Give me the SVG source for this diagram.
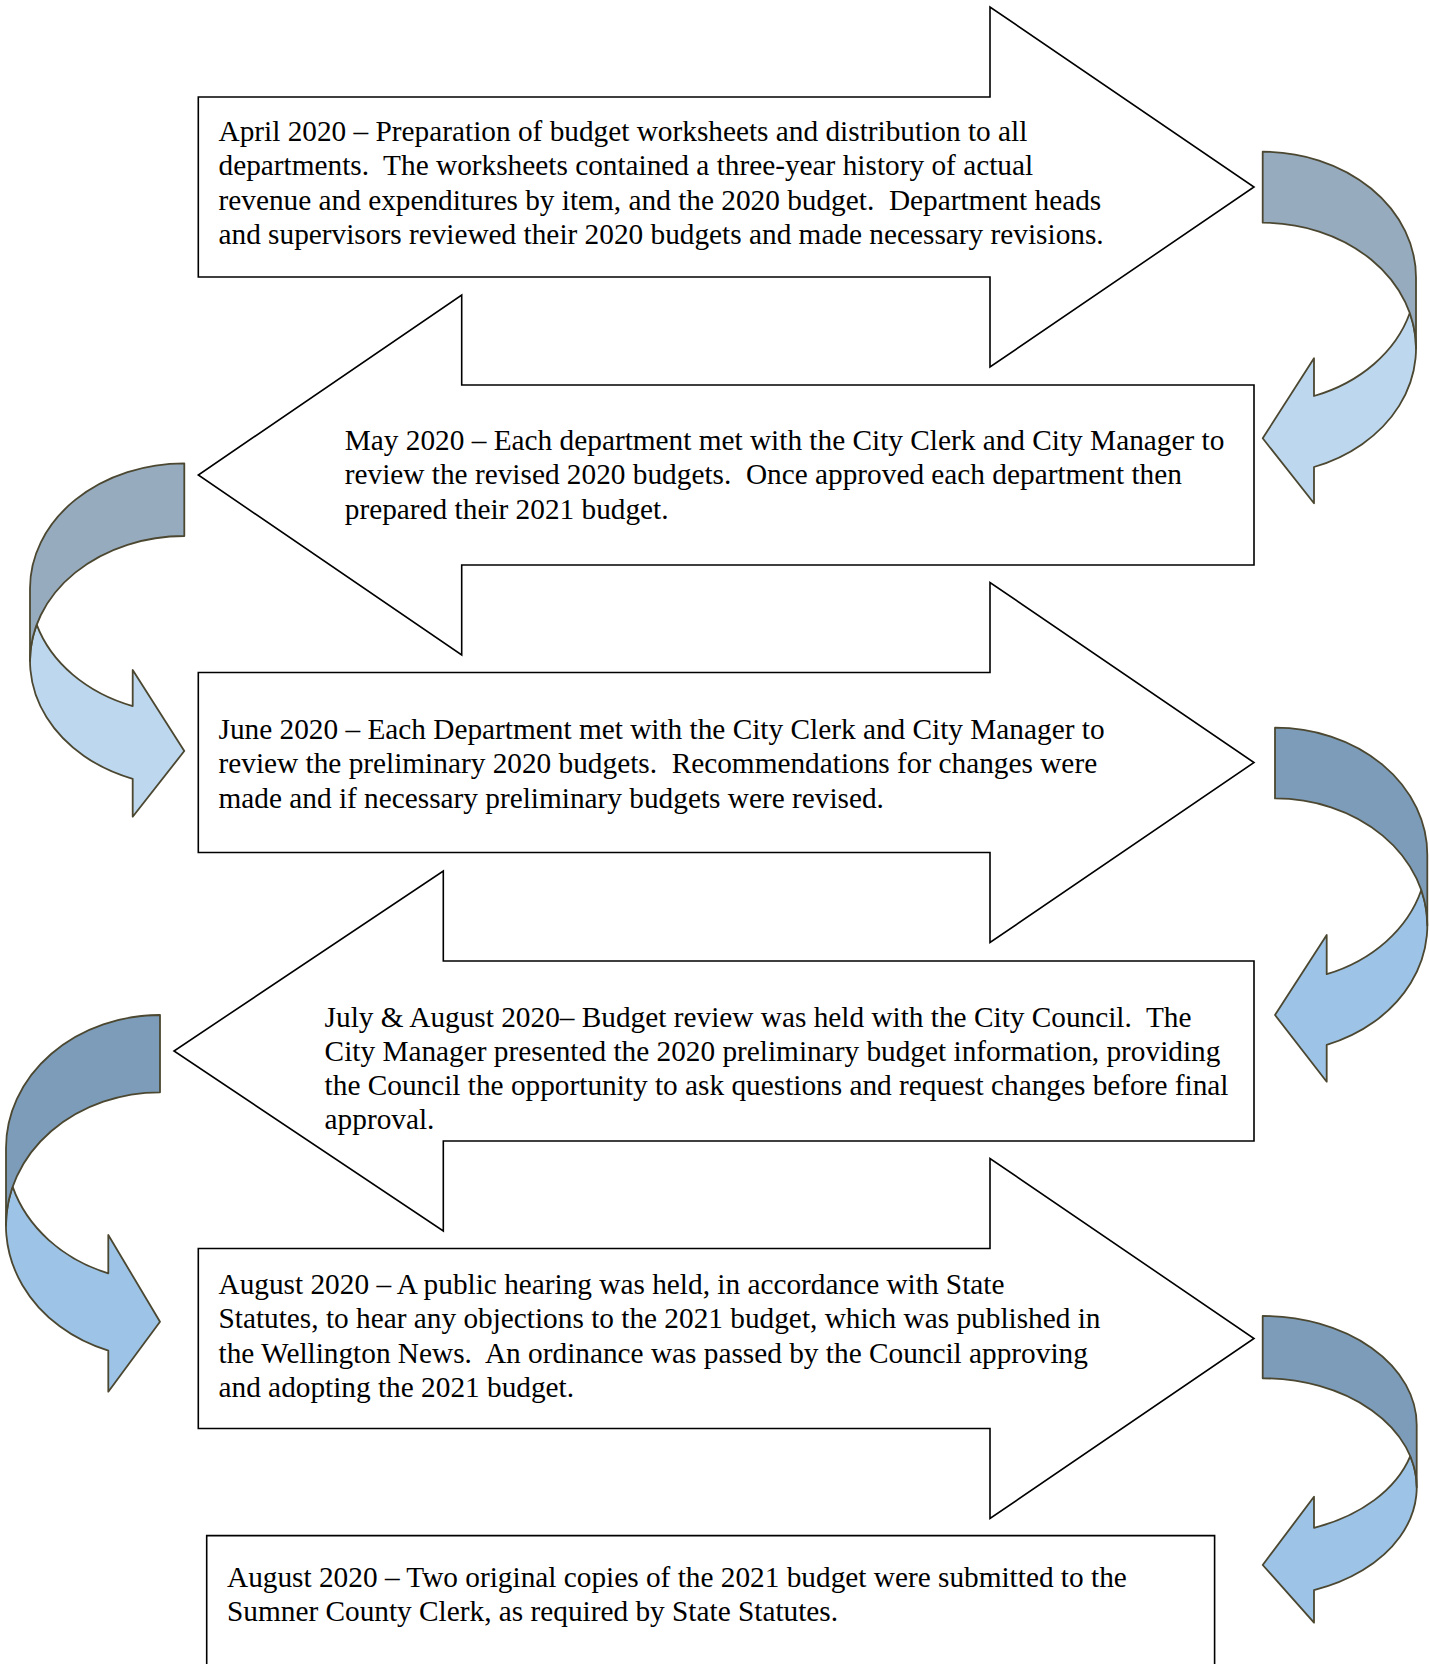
<svg xmlns="http://www.w3.org/2000/svg" width="1429" height="1664" viewBox="0 0 1429 1664">
<style>
.big{fill:#ffffff;stroke:#000000;stroke-width:1.6;stroke-linejoin:miter}
.t{font-family:"Liberation Serif","Times New Roman",serif;font-size:29.3px;fill:#000000;white-space:pre}
.ln{stroke:#4b4730;stroke-width:1.8;stroke-linejoin:round}
.d1{fill:#97abbf}.l1{fill:#bdd7ee}
.d2{fill:#7d9cb9}.l2{fill:#9dc3e6}
</style>
<rect width="1429" height="1664" fill="#ffffff"/>

<g id="step1">
<path class="big" d="M198.3,97 L990,97 L990,7 L1254,187 L990,367 L990,277 L198.3,277 Z"/>
<text class="t" x="218.5" y="141">April 2020 – Preparation of budget worksheets and distribution to all</text>
<text class="t" x="218.5" y="175.3">departments.  The worksheets contained a three-year history of actual</text>
<text class="t" x="218.5" y="209.6">revenue and expenditures by item, and the 2020 budget.  Department heads</text>
<text class="t" x="218.5" y="243.9">and supervisors reviewed their 2020 budgets and made necessary revisions.</text>
</g>

<g id="step2">
<path class="big" d="M1254,385 L461.7,385 L461.7,295 L198.3,475 L461.7,655 L461.7,565 L1254,565 Z"/>
<text class="t" x="344.8" y="450">May 2020 – Each department met with the City Clerk and City Manager to</text>
<text class="t" x="344.8" y="484.3">review the revised 2020 budgets.  Once approved each department then</text>
<text class="t" x="344.8" y="518.6">prepared their 2021 budget.</text>
</g>

<g id="step3">
<path class="big" d="M198.3,672.5 L990,672.5 L990,582.5 L1254,762.5 L990,942.5 L990,852.5 L198.3,852.5 Z"/>
<text class="t" x="218.5" y="739">June 2020 – Each Department met with the City Clerk and City Manager to</text>
<text class="t" x="218.5" y="773.3">review the preliminary 2020 budgets.  Recommendations for changes were</text>
<text class="t" x="218.5" y="807.6">made and if necessary preliminary budgets were revised.</text>
</g>

<g id="step4">
<path class="big" d="M1254,961 L443.3,961 L443.3,871 L174,1051 L443.3,1231 L443.3,1141 L1254,1141 Z"/>
<text class="t" x="324.6" y="1026.5">July &amp; August 2020– Budget review was held with the City Council.  The</text>
<text class="t" x="324.6" y="1060.8">City Manager presented the 2020 preliminary budget information, providing</text>
<text class="t" x="324.6" y="1095.1">the Council the opportunity to ask questions and request changes before final</text>
<text class="t" x="324.6" y="1129.4">approval.</text>
</g>

<g id="step5">
<path class="big" d="M198.3,1248.5 L990,1248.5 L990,1158.5 L1254,1338.5 L990,1518.5 L990,1428.5 L198.3,1428.5 Z"/>
<text class="t" x="218.5" y="1294">August 2020 – A public hearing was held, in accordance with State</text>
<text class="t" x="218.5" y="1328.3">Statutes, to hear any objections to the 2021 budget, which was published in</text>
<text class="t" x="218.5" y="1362.6">the Wellington News.  An ordinance was passed by the Council approving</text>
<text class="t" x="218.5" y="1396.9">and adopting the 2021 budget.</text>
</g>

<g id="step6">
<path class="big" d="M206.7,1670 L206.7,1535.6 L1214.6,1535.6 L1214.6,1670"/>
<text class="t" x="227" y="1587">August 2020 – Two original copies of the 2021 budget were submitted to the</text>
<text class="t" x="227" y="1621.3">Sumner County Clerk, as required by State Statutes.</text>
</g>

<g id="connectors">
<g id="curve1">
<path class="ln l1" d="M1262.7,438.3 L1314,358.3 L1314,396 A153.3,125.8 0 0 0 1409.8,313 A153.3,125.8 0 0 1 1314,467 L1314,503.3 Z"/>
<path class="ln d1" d="M1262.7,151.7 A153.3,125.8 0 0 1 1416,277.5 L1416,348.5 A153.3,125.8 0 0 0 1262.7,222.7 Z"/>
</g>
<g id="curve2">
<path class="ln l1" d="M184.3,751 L132.7,670 L132.7,706.1 A154.3,125 0 0 1 36.7,624.65 A154.3,125 0 0 0 132.7,778.8 L132.7,816.7 Z"/>
<path class="ln d1" d="M184.3,463.3 A154.3,125 0 0 0 30,588.3 L30,661 A154.3,125 0 0 1 184.3,536 Z"/>
</g>
<g id="curve3">
<path class="ln l2" d="M1275,1015 L1326.7,935 L1326.7,974.2 A152.3,127 0 0 0 1421.3,890.05 A152.3,127 0 0 1 1326.7,1044.9 L1326.7,1081.7 Z"/>
<path class="ln d2" d="M1275,727.7 A152.3,127 0 0 1 1427.3,854.7 L1427.3,925.4 A152.3,127 0 0 0 1275,798.4 Z"/>
</g>
<g id="curve4">
<path class="ln l2" d="M160,1321.7 L108.3,1235 L108.3,1273.3 A154,133 0 0 1 12.6,1186.65 A154,133 0 0 0 108.3,1350.6 L108.3,1391.7 Z"/>
<path class="ln d2" d="M160,1015 A154,133 0 0 0 6,1148 L6,1225.3 A154,133 0 0 1 160,1092.3 Z"/>
</g>
<g id="curve5">
<path class="ln l2" d="M1262.7,1565 L1314,1496.7 L1314,1527.8 A154,109 0 0 0 1410.3,1456.15 A154,109 0 0 1 1314,1590.1 L1314,1622.7 Z"/>
<path class="ln d2" d="M1262.7,1316 A154,109 0 0 1 1416.7,1425 L1416.7,1487.3 A154,109 0 0 0 1262.7,1378.3 Z"/>
</g>
</g>
</svg>
